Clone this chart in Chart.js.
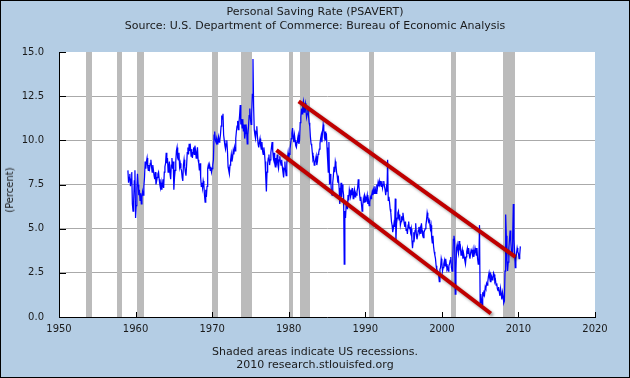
<!DOCTYPE html>
<html><head><meta charset="utf-8">
<script src="https://cdn.jsdelivr.net/npm/chart.js@4.4.1/dist/chart.umd.min.js"></script>
<style>
html,body{margin:0;padding:0;background:#b4cde4;}
#wrap{position:relative;width:630px;height:378px;background:#b4cde4;overflow:hidden;font-family:'DejaVu Sans',Verdana,sans-serif;color:#1a1a1a;}
#c{position:absolute;left:0;top:0;}
.t{position:absolute;left:0;width:630px;text-align:center;font-size:11px;line-height:13px;white-space:nowrap;}
#frame{position:absolute;left:0;top:0;width:630px;height:378px;box-sizing:border-box;border:1px solid #000;pointer-events:none;}
#ylab{position:absolute;left:10px;top:190px;transform:translate(-50%,-50%) rotate(-90deg);font-size:10px;line-height:12px;white-space:nowrap;}
</style></head>
<body>
<div id="wrap">
<canvas id="c" width="630" height="378"></canvas>
<div class="t" style="top:5px">Personal Saving Rate (PSAVERT)</div>
<div class="t" style="top:19px">Source: U.S. Department of Commerce: Bureau of Economic Analysis</div>
<div id="ylab">(Percent)</div>
<div class="t" style="top:345px">Shaded areas indicate US recessions.</div>
<div class="t" style="top:358px">2010 research.stlouisfed.org</div>
<div id="frame"></div>
</div>
<script>
// Monthly personal saving rate (%), starting January 1959
const firstYear = 1959;
const saving1950s = [8.3,7.6,7.9,8.1,7.4,7.8,8.2,6.4,6.0,6.6,7.7,8.3];
const saving1960s = [
 5.6,6.3,7.3,8.1,7.5,6.9,7.2,6.6,7.0,6.4,6.8,7.1,
 6.9,7.4,7.9,8.8,8.4,8.8,9.0,8.5,8.3,8.6,8.4,8.7,
 8.9,8.5,8.2,8.6,8.3,8.0,7.8,8.2,7.5,7.7,7.9,8.1,
 8.2,7.8,7.5,7.3,7.6,7.2,7.4,7.8,7.3,8.2,8.5,8.7,
 9.3,8.7,9.0,8.2,8.5,8.8,8.1,7.8,8.6,9.0,8.4,8.8,
 7.2,7.9,8.3,8.8,9.4,9.6,9.0,8.9,9.3,8.5,8.7,8.4,
 8.3,7.9,7.7,8.6,8.9,8.5,8.2,8.0,8.6,9.3,9.6,9.2,
 9.8,9.4,9.6,9.1,9.5,9.0,9.3,9.6,9.2,9.7,9.4,9.0,
 9.3,9.6,8.9,8.7,8.3,8.7,7.9,7.4,7.6,7.3,7.7,7.5,
 6.9,6.5,7.2,6.8,7.4,8.4,8.6,8.4,8.6,8.3,8.5,8.2];
const saving1970s = [
 8.4,8.6,8.9,10.3,10.5,10.0,9.9,10.1,9.8,10.0,10.2,9.9,
 10.0,10.3,10.8,11.4,11.2,11.5,10.3,10.0,9.7,9.5,9.8,10.0,
 9.4,8.5,8.3,8.1,8.6,8.9,9.2,8.8,9.0,9.4,9.2,9.6,
 9.4,10.1,10.5,10.8,11.1,10.6,11.0,11.4,12.0,10.9,11.2,10.7,
 11.2,10.5,10.9,10.1,10.4,10.9,10.6,9.8,10.3,10.8,11.4,11.8,
 11.2,10.9,11.5,12.6,14.6,11.9,10.6,10.3,10.1,10.5,10.8,10.2,
 9.8,9.6,9.9,10.1,9.7,9.5,9.9,9.4,9.2,9.6,9.3,8.8,
 7.9,7.1,8.2,8.7,9.0,9.2,8.6,8.9,9.3,9.6,9.9,9.4,
 9.0,9.3,8.7,8.5,9.0,8.8,9.2,8.6,8.4,8.9,9.1,8.8,
 8.6,8.9,8.5,8.2,7.9,8.4,8.8,8.3,8.0,8.7,9.0,9.3];
const saving1980s = [
 8.9,9.2,9.5,9.8,10.1,10.4,10.7,10.2,9.9,10.3,10.0,9.7,
 9.6,9.9,10.1,10.3,9.8,10.0,11.0,11.3,11.8,11.5,12.0,12.2,
 11.6,11.9,12.1,11.7,11.3,11.5,11.9,11.4,11.0,10.8,10.2,9.8,
 9.7,9.3,8.9,9.0,8.6,8.7,8.9,9.1,8.6,8.8,9.2,9.3,
 9.5,9.8,10.1,10.3,9.9,10.5,10.9,10.6,10.2,10.5,10.0,10.4,
 9.6,8.9,8.2,9.9,7.5,8.1,7.7,7.0,6.9,7.6,8.0,8.5,
 8.2,8.8,8.6,8.2,8.0,7.6,7.8,7.3,6.4,7.0,7.6,6.8,
 7.5,7.2,6.9,3.0,6.0,5.6,6.3,6.5,6.1,6.9,6.6,7.2,
 7.0,6.8,7.1,6.9,7.3,6.7,7.0,7.2,6.8,7.0,6.9,7.1,
 7.3,7.8,7.4,7.0,6.6,6.8,6.4,6.0,6.3,6.7,6.5,6.9];
const saving1990s = [
 6.8,6.5,6.7,6.9,6.4,6.6,6.3,6.5,6.8,6.7,6.9,7.1,
 6.9,7.2,7.0,7.4,7.2,7.0,7.5,7.3,7.6,7.4,7.7,7.5,
 7.6,7.4,7.7,7.3,7.5,7.7,7.4,7.2,6.9,7.3,7.1,8.9,
 6.6,6.8,6.5,6.1,5.9,5.4,5.2,4.8,5.0,5.3,5.1,6.7,
 4.3,5.3,5.6,5.9,6.0,5.5,5.8,5.2,5.4,5.7,5.5,5.9,
 5.6,5.3,5.1,5.4,4.9,5.0,4.7,5.2,5.4,5.0,5.1,4.8,
 5.0,4.4,3.9,4.3,4.8,4.5,4.9,5.3,4.7,4.4,4.6,4.9,
 5.1,4.8,5.0,4.7,5.3,4.9,4.6,4.5,4.8,4.9,5.0,5.2,
 5.5,5.9,5.7,5.4,5.5,5.3,5.0,5.2,4.5,4.2,4.6,4.0,
 3.7,3.5,3.3,2.9,2.7,2.6,2.5,2.4,2.0,2.7,2.8,3.3];
const saving2000s = [
 3.1,2.6,2.8,3.0,3.2,2.9,3.3,3.0,2.7,2.8,2.6,2.9,
 3.0,3.2,3.4,2.8,2.6,3.0,4.4,4.6,4.3,1.3,2.6,3.9,
 4.1,3.8,3.6,4.3,3.9,4.0,3.5,3.6,3.8,3.3,3.6,3.4,
 3.2,3.0,3.4,3.7,3.9,3.6,3.9,3.5,3.3,3.6,3.8,3.7,
 3.5,3.8,3.4,3.6,3.9,3.7,3.5,3.9,3.3,3.0,3.2,5.2,
 0.8,1.3,1.0,0.7,1.4,1.2,1.5,1.3,1.7,1.6,1.9,1.8,
 2.0,2.3,2.5,2.2,2.0,2.4,2.3,2.1,2.2,2.5,2.4,2.0,
 2.1,1.8,1.9,1.6,1.5,1.7,1.4,1.2,1.6,1.3,1.0,1.4,
 1.2,0.8,0.9,2.6,5.8,4.6,3.2,2.6,3.1,3.9,4.4,4.9,
 4.3,3.8,3.5,4.6,6.4,4.4,3.7,2.8,3.3,3.6,3.9,3.7];
const saving2010s = [3.6,3.3,3.5,4.0];

// NBER recessions (decimal years: start, end)
const recessionStarts = [1953.5,1957.58,1960.25,1969.92,1973.83,1980.0,1981.5,1990.5,2001.17,2007.92];
const recessionEnds   = [1954.33,1958.25,1961.08,1970.83,1975.17,1980.5,1982.83,1991.17,2001.83,2009.5];

// Hand-drawn trend channel (year, percent)
const upperTrendYears = [1981.3, 2009.6];
const upperTrendValues = [12.2, 3.4];
const lowerTrendYears = [1978.4, 2006.4];
const lowerTrendValues = [9.45, 0.2];

// Axis ticks
const xTicks = [1950,1960,1970,1980,1990,2000,2010,2020];
const yTicks = [0,2.5,5,7.5,10,12.5,15];

const allSaving = [].concat(saving1950s, saving1960s, saving1970s, saving1980s, saving1990s, saving2000s, saving2010s);
const savingPoints = allSaving.map((v,i)=>({x: firstYear + i/12, y: v}));
const upperPts = upperTrendYears.map((x,i)=>({x, y: upperTrendValues[i]}));
const lowerPts = lowerTrendYears.map((x,i)=>({x, y: lowerTrendValues[i]}));

Chart.defaults.font.family = "'DejaVu Sans', Verdana, sans-serif";
Chart.defaults.font.size = 10;
Chart.defaults.color = '#1a1a1a';

const decor = {
  id: 'decor',
  beforeDraw(chart){
    const {ctx, chartArea:a} = chart;
    ctx.save(); ctx.fillStyle = '#ffffff';
    ctx.fillRect(a.left, a.top, a.right-a.left, a.bottom-a.top);
    ctx.restore();
  },
  beforeDatasetsDraw(chart){
    const {ctx, chartArea:a, scales:{x}} = chart;
    ctx.save(); ctx.fillStyle = '#bbbbbb';
    recessionStarts.forEach((s,i)=>{
      const x0 = Math.round(x.getPixelForValue(s));
      const x1 = Math.round(x.getPixelForValue(recessionEnds[i]));
      ctx.fillRect(x0, a.top, Math.max(1,x1-x0), a.bottom-a.top);
    });
    ctx.restore();
  },
  beforeDatasetDraw(chart, args){
    const ds = chart.data.datasets[args.index];
    if (ds.trend){
      const ctx = chart.ctx; ctx.save();
      ctx.shadowColor = 'rgba(0,0,0,0.4)'; ctx.shadowBlur = 3;
      ctx.shadowOffsetX = 2; ctx.shadowOffsetY = 2;
    }
  },
  afterDatasetDraw(chart, args){
    if (chart.data.datasets[args.index].trend) chart.ctx.restore();
  },
  afterDraw(chart){
    const {ctx, chartArea:a, scales:{x, y}} = chart;
    ctx.save(); ctx.strokeStyle = '#000'; ctx.lineWidth = 1;
    ctx.beginPath();
    xTicks.forEach(t=>{ const px = Math.round(x.getPixelForValue(t))+0.5; ctx.moveTo(px, a.bottom); ctx.lineTo(px, a.bottom-5); });
    yTicks.forEach(t=>{ const py = Math.round(y.getPixelForValue(t))+0.5; ctx.moveTo(a.left, py); ctx.lineTo(a.left+7, py); });
    ctx.stroke();
    ctx.restore();
  }
};

new Chart(document.getElementById('c'), {
  type: 'line',
  data: { datasets: [
    { label:'Upper trend', data: upperPts, trend:true, borderColor:'#c00000', borderWidth:4, pointRadius:0, order:0 },
    { label:'Lower trend', data: lowerPts, trend:true, borderColor:'#c00000', borderWidth:4, pointRadius:0, order:0 },
    { label:'PSAVERT', data: savingPoints, borderColor:'#0000ff', borderWidth:1.25, pointRadius:0, tension:0, order:1 }
  ]},
  options: {
    responsive:false, animation:false, parsing:true,
    layout:{ padding:{ left:0, top:52, right:35, bottom:0 } },
    plugins:{ legend:{display:false}, tooltip:{enabled:false} },
    scales:{
      x:{ type:'linear', min:1950, max:2020,
        afterBuildTicks(s){ s.ticks = xTicks.map(v=>({value:v})); },
        afterFit(s){ s.height = 61; },
        ticks:{ padding:6, maxRotation:0, callback:v=>String(v) },
        grid:{ drawOnChartArea:false, drawTicks:false },
        border:{ display:true, color:'#000', width:1 } },
      y:{ min:0, max:15,
        afterBuildTicks(s){ s.ticks = yTicks.map(v=>({value:v})); },
        afterFit(s){ s.width = 59; },
        ticks:{ padding:15, callback:v=>Number(v).toFixed(1) },
        grid:{ drawTicks:false, color:(c)=> (c.tick && (c.tick.value===0 || c.tick.value===15)) ? 'rgba(0,0,0,0)' : '#aaaaaa' },
        border:{ display:true, color:'#000', width:1 } }
    }
  },
  plugins:[decor]
});
</script>
</body></html>
